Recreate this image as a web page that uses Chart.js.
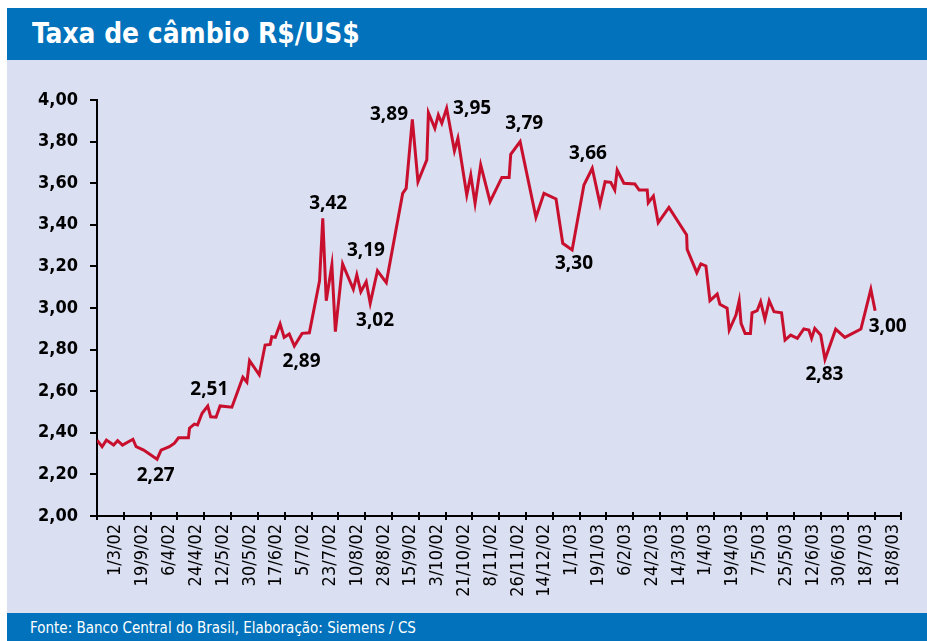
<!DOCTYPE html>
<html lang="pt">
<head>
    <meta charset="UTF-8">
    <title>Taxa de câmbio R$/US$</title>
    <script src="https://cdn.jsdelivr.net/npm/chart.js"></script>
    <style>
        body { margin: 0; width: 927px; height: 641px; background: #fff; overflow: hidden; position: relative; }
        .bar { position: absolute; left: 7px; width: 920px; background: #0172bb; color: #fff; }
        #title { top: 8px; height: 52px; }
        #title span {
            position: absolute; left: 25px; top: 8px;
            font: bold 29px "DejaVu Sans Condensed", "DejaVu Sans", sans-serif;
            transform: scaleX(0.96); transform-origin: left top; white-space: nowrap;
        }
        #panel { position: absolute; left: 7px; top: 60px; width: 920px; height: 553px; background: #dadff1; }
        #footer { top: 613px; height: 28px; }
        #footer span {
            position: absolute; left: 23px; top: 6px;
            font: 15px "DejaVu Sans Condensed", "DejaVu Sans", sans-serif; white-space: nowrap;
        }
        #wrap { position: absolute; left: 0; top: 60px; width: 927px; height: 552px; }
    </style>
</head>
<body>
    <div id="title" class="bar"><span>Taxa de câmbio R$/US$</span></div>
    <div id="panel"></div>
    <div id="wrap"><canvas id="rateChart"></canvas></div>
    <div id="footer" class="bar"><span>Fonte: Banco Central do Brasil, Elaboração: Siemens / CS</span></div>

    <script>
        // x axis labels, one every 18 days (one per tick)
        const tickLabels = ['1/3/02', '19/9/02', '6/4/02', '24/4/02', '12/5/02', '30/5/02', '17/6/02', '5/7/02',
            '23/7/02', '10/8/02', '28/8/02', '15/9/02', '3/10/02', '21/10/02', '8/11/02', '26/11/02', '14/12/02',
            '1/1/03', '19/1/03', '6/2/03', '24/2/03', '14/3/03', '1/4/03', '19/4/03', '7/5/03', '25/5/03',
            '12/6/03', '30/6/03', '18/7/03', '18/8/03'];

        // position along the axis, in tick steps
        const rateX = [0, 0.19, 0.35, 0.62, 0.77, 0.95, 1.34, 1.46, 1.74, 2.24, 2.39, 2.70, 2.89, 3.04, 3.41, 3.45,
            3.63, 3.75, 3.92, 4.13, 4.24, 4.44, 4.59, 5.03, 5.44, 5.59, 5.69, 6.05, 6.27, 6.46, 6.52, 6.65, 6.83,
            6.98, 7.17, 7.36, 7.65, 7.92, 8.30, 8.42, 8.55, 8.76, 8.89, 9.16, 9.56, 9.69, 9.84, 10.04, 10.19, 10.46,
            10.79, 11.40, 11.53, 11.76, 11.97, 12.30, 12.36, 12.60, 12.73, 12.86, 13.04, 13.33, 13.46, 13.79, 13.94,
            14.10, 14.31, 14.66, 15.10, 15.37, 15.43, 15.78, 16.37, 16.67, 17.12, 17.37, 17.72, 18.16, 18.47, 18.76,
            18.95, 19.16, 19.31, 19.40, 19.65, 20.06, 20.22, 20.52, 20.56, 20.75, 20.93, 21.33, 21.99, 22.01, 22.37,
            22.52, 22.71, 22.86, 23.13, 23.23, 23.50, 23.58, 23.83, 23.95, 24.02, 24.17, 24.37, 24.43, 24.62, 24.75,
            24.91, 25.07, 25.25, 25.53, 25.66, 25.87, 26.12, 26.36, 26.55, 26.65, 26.77, 26.99, 27.15, 27.55, 27.89,
            28.49, 28.86, 29.02];

        // R$ per US$
        const rateY = [2.365, 2.333, 2.365, 2.341, 2.362, 2.341, 2.369, 2.333, 2.317, 2.273, 2.317, 2.333, 2.350,
            2.376, 2.376, 2.422, 2.442, 2.438, 2.494, 2.529, 2.477, 2.475, 2.529, 2.523, 2.667, 2.644, 2.747, 2.679,
            2.822, 2.825, 2.862, 2.859, 2.923, 2.859, 2.875, 2.817, 2.878, 2.881, 3.131, 3.431, 3.035, 3.207, 2.886,
            3.212, 3.090, 3.159, 3.078, 3.126, 3.023, 3.179, 3.122, 3.551, 3.575, 3.907, 3.607, 3.712, 3.939, 3.864,
            3.928, 3.888, 3.960, 3.756, 3.816, 3.543, 3.639, 3.503, 3.688, 3.511, 3.628, 3.628, 3.739, 3.800, 3.436,
            3.551, 3.524, 3.311, 3.279, 3.591, 3.672, 3.500, 3.607, 3.604, 3.567, 3.663, 3.600, 3.596, 3.567, 3.567,
            3.506, 3.538, 3.410, 3.484, 3.351, 3.282, 3.170, 3.212, 3.202, 3.035, 3.067, 3.018, 2.999, 2.894, 2.966,
            3.035, 2.926, 2.878, 2.878, 2.977, 2.987, 3.030, 2.946, 3.035, 2.982, 2.977, 2.846, 2.870, 2.854, 2.899,
            2.894, 2.854, 2.902, 2.870, 2.753, 2.898, 2.859, 2.899, 3.090, 2.987];

        // value callouts: text and where its centre sits (axis units)
        const noteText = ['2,27', '2,51', '3,42', '2,89', '3,19', '3,02', '3,89', '3,95', '3,79', '3,30', '3,66', '2,83', '3,00'];
        const noteX = [2.19, 4.19, 8.62, 7.63, 10.03, 10.37, 10.89, 13.99, 15.93, 17.79, 18.31, 27.13, 29.49];
        const noteY = [2.195, 2.606, 3.500, 2.740, 3.274, 2.940, 3.930, 3.957, 3.885, 3.213, 3.740, 2.678, 2.909];

        const points = rateX.map((x, i) => ({ x: x, y: rateY[i] }));

        // numbers next to the peaks and troughs
        const notesPlugin = {
            id: 'notes',
            afterDatasetsDraw(chart) {
                const ctx = chart.ctx;
                const xs = chart.scales.x, ys = chart.scales.y;
                ctx.save();
                ctx.fillStyle = '#000';
                ctx.font = 'bold 19px "Open Sans", sans-serif';
                ctx.textAlign = 'center';
                ctx.textBaseline = 'middle';
                noteText.forEach((t, i) => {
                    ctx.fillText(t, xs.getPixelForValue(noteX[i]), ys.getPixelForValue(noteY[i]));
                });
                ctx.restore();
            }
        };

        // x ticks also poke a little above the axis
        const innerTicks = {
            id: 'innerTicks',
            afterDraw(chart) {
                const ctx = chart.ctx;
                const xs = chart.scales.x;
                const bottom = chart.chartArea.bottom;
                ctx.save();
                ctx.strokeStyle = '#000';
                ctx.lineWidth = 2;
                xs.ticks.forEach(t => {
                    const px = Math.round(xs.getPixelForValue(t.value));
                    ctx.beginPath();
                    ctx.moveTo(px, bottom);
                    ctx.lineTo(px, bottom - 4);
                    ctx.stroke();
                });
                ctx.restore();
            }
        };

        new Chart(document.getElementById('rateChart'), {
            type: 'line',
            data: {
                datasets: [{
                    data: points,
                    borderColor: '#c8102e',
                    borderWidth: 3,
                    pointRadius: 0,
                    tension: 0,
                    fill: false
                }]
            },
            options: {
                responsive: true,
                maintainAspectRatio: false,
                animation: false,
                layout: { padding: { left: 0, top: 40, right: 25, bottom: 0 } },
                plugins: {
                    legend: { display: false },
                    tooltip: { enabled: false }
                },
                scales: {
                    x: {
                        type: 'linear',
                        min: 0,
                        max: 30,
                        afterFit(scale) { scale.height = 96; },
                        border: { color: '#000', width: 2 },
                        grid: { drawOnChartArea: false, color: '#000', lineWidth: 2, tickLength: 4 },
                        ticks: {
                            stepSize: 1,
                            autoSkip: false,
                            maxRotation: 90,
                            minRotation: 90,
                            padding: 4,
                            labelOffset: -8,
                            color: '#000',
                            font: { family: '"DejaVu Sans Condensed", "DejaVu Sans", sans-serif', size: 18 },
                            callback: (v) => (v >= 1 && v <= tickLabels.length) ? tickLabels[v - 1] : ''
                        }
                    },
                    y: {
                        min: 2,
                        max: 4,
                        afterFit(scale) { scale.width = 97; },
                        border: { color: '#000', width: 2 },
                        grid: { drawOnChartArea: false, color: '#000', lineWidth: 2, tickLength: 7 },
                        ticks: {
                            stepSize: 0.2,
                            padding: 12,
                            color: '#000',
                            font: { family: '"DejaVu Sans Condensed", "DejaVu Sans", sans-serif', size: 18, weight: 'bold' },
                            callback: (v) => v.toFixed(2).replace('.', ',')
                        }
                    }
                }
            },
            plugins: [notesPlugin, innerTicks]
        });
    </script>
</body>
</html>
